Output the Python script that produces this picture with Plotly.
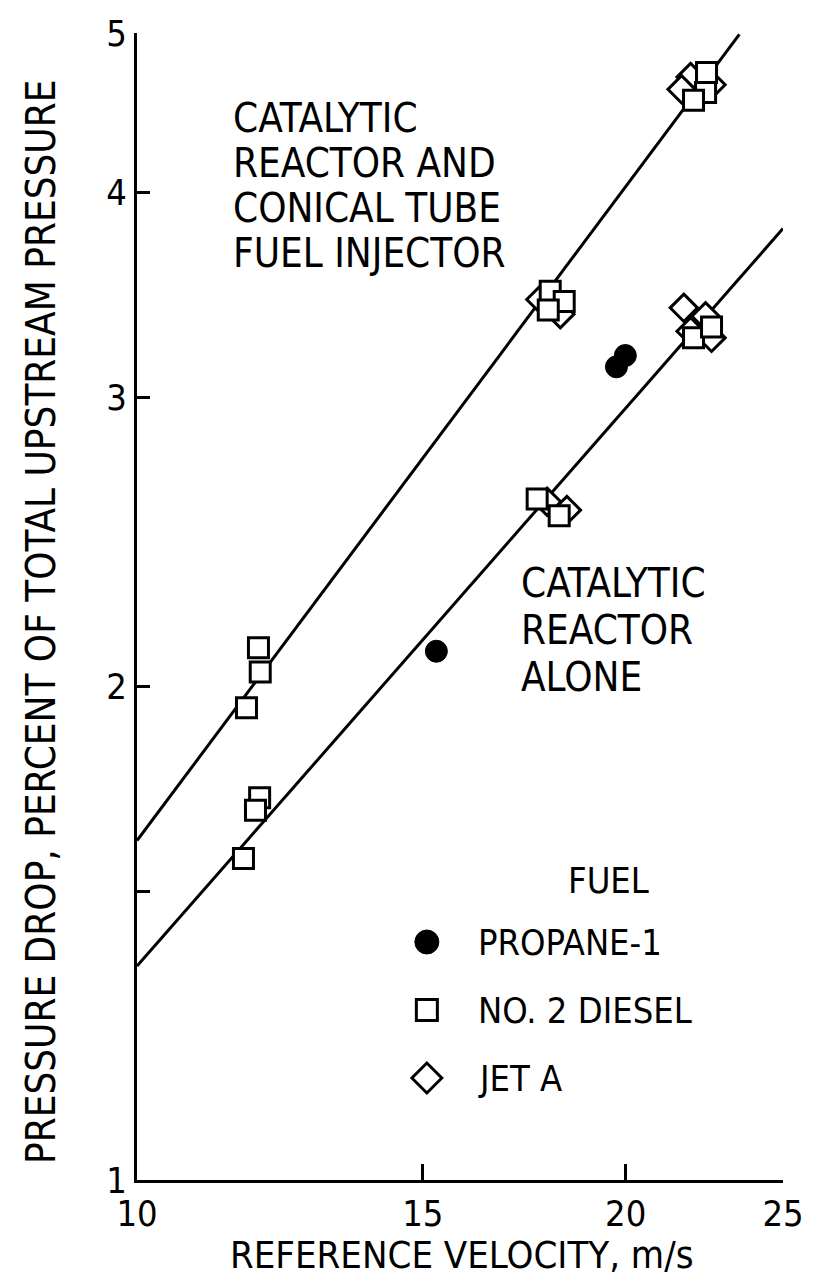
import plotly.graph_objects as go
import math

# ---------------- data ----------------
upper_line_x = [10.0, 23.5]
upper_line_y = [1.61, 4.99]
lower_line_x = [10.0, 25.0]
lower_line_y = [1.35, 3.80]

propane_x = [15.29, 19.74, 19.99]
propane_y = [2.10, 3.13, 3.18]

diesel_x = [11.88, 11.91, 11.68, 17.97, 18.33, 17.92, 22.43, 22.40, 22.02,
            11.90, 11.83, 11.63, 17.64, 18.20, 22.02, 22.59]
diesel_y = [2.11, 2.04, 1.94, 3.48, 3.43, 3.39, 4.73, 4.60, 4.55,
            1.71, 1.68, 1.57, 2.60, 2.54, 3.26, 3.31]

jet_x = [17.72, 18.23, 21.93, 22.59, 21.65, 17.89, 18.40, 21.72, 22.40, 21.93, 22.59]
jet_y = [3.44, 3.37, 4.70, 4.65, 4.62, 2.59, 2.56, 3.40, 3.36, 3.29, 3.26]

x_ticks = [10, 15, 20, 25]
y_ticks = [1, 1.5, 2, 3, 4, 5]
y_ticktext = ["1", "", "2", "3", "4", "5"]

legend_names = ["PROPANE-1", "NO. 2 DIESEL", "JET A"]

# ---------------- layout constants ----------------
W, H = 816, 1283
L, R, T, B = 137, 790, 33, 1180
FONT = "DejaVu Sans Condensed, Liberation Sans Narrow, DejaVu Sans, sans-serif"
BLACK = "#000000"

def px2paper(px, py):
    return (px - L) / (R - L), (B - py) / (B - T)

def px2data(px, py):
    xr = (math.log10(10), math.log10(25))
    yr = (0, math.log10(5))
    fx, fy = px2paper(px, py)
    return 10 ** (xr[0] + fx * (xr[1] - xr[0])), 10 ** (yr[0] + fy * (yr[1] - yr[0]))

fig = go.Figure()

line_style = dict(color=BLACK, width=3)
fig.add_trace(go.Scatter(x=upper_line_x, y=upper_line_y, mode="lines", line=line_style,
                         showlegend=False, hoverinfo="skip"))
fig.add_trace(go.Scatter(x=lower_line_x, y=lower_line_y, mode="lines", line=line_style,
                         showlegend=False, hoverinfo="skip"))

sq_marker = dict(symbol="square", size=20, color="white", line=dict(color=BLACK, width=3))
di_marker = dict(symbol="diamond", size=21, color="white", line=dict(color=BLACK, width=3))
ci_marker = dict(symbol="circle", size=22, color=BLACK, line=dict(color=BLACK, width=1))

fig.add_trace(go.Scatter(x=jet_x, y=jet_y, mode="markers", marker=di_marker,
                         name=legend_names[2], showlegend=False, cliponaxis=False))
fig.add_trace(go.Scatter(x=diesel_x, y=diesel_y, mode="markers", marker=sq_marker,
                         name=legend_names[1], showlegend=False, cliponaxis=False))
fig.add_trace(go.Scatter(x=propane_x, y=propane_y, mode="markers", marker=ci_marker,
                         name=legend_names[0], showlegend=False, cliponaxis=False))

# manual legend keys
leg_px = 430
leg_py = [942, 1010, 1078]
leg_markers = [dict(ci_marker, size=24), dict(sq_marker, size=21), dict(di_marker, size=23)]
for mk, py in zip(leg_markers, leg_py):
    lx, ly = px2data(leg_px, py)
    fig.add_trace(go.Scatter(x=[lx], y=[ly], mode="markers", marker=mk,
                             showlegend=False, hoverinfo="skip", cliponaxis=False))

annotations = []

def add_text(text, px, py, size=40, xanchor="left", angle=0):
    fx, fy = px2paper(px, py)
    annotations.append(dict(text=text, x=fx, y=fy, xref="paper", yref="paper",
                            xanchor=xanchor, yanchor="middle", showarrow=False,
                            textangle=angle, font=dict(family=FONT, size=size, color=BLACK)))

for i, t in enumerate(["CATALYTIC", "REACTOR AND", "CONICAL TUBE", "FUEL INJECTOR"]):
    add_text(t, 232, 118 + 45 * i)
for i, t in enumerate(["CATALYTIC", "REACTOR", "ALONE"]):
    add_text(t, 523, 583 + 47 * i)

add_text("FUEL", 614, 880, size=36, xanchor="center")
for name, py in zip(legend_names, leg_py):
    add_text(name, 480, py, size=36)

add_text("REFERENCE VELOCITY, m/s", 465, 1255, size=38, xanchor="center")
add_text("PRESSURE DROP, PERCENT OF TOTAL UPSTREAM PRESSURE", 40, 622, size=40,
         xanchor="center", angle=-90)

fig.update_layout(
    width=W, height=H,
    margin=dict(l=L, r=W - R, t=T, b=H - B, pad=0),
    paper_bgcolor="white", plot_bgcolor="white",
    showlegend=False,
    annotations=annotations,
    font=dict(family=FONT, color=BLACK),
)
fig.update_xaxes(type="log", range=[1, math.log10(25)], tickvals=x_ticks,
                 ticktext=[str(v) for v in x_ticks],
                 showline=True, linecolor=BLACK, linewidth=3, mirror=False,
                 ticks="inside", ticklen=16, tickwidth=3, tickcolor=BLACK,
                 showgrid=False, zeroline=False,
                 tickfont=dict(family=FONT, size=36, color=BLACK))
fig.update_yaxes(type="log", range=[0, math.log10(5)], tickvals=y_ticks, ticktext=y_ticktext,
                 showline=True, linecolor=BLACK, linewidth=3, mirror=False,
                 ticks="inside", ticklen=13, tickwidth=3, tickcolor=BLACK,
                 showgrid=False, zeroline=False,
                 tickfont=dict(family=FONT, size=36, color=BLACK))

fig.write_html("out.html", config={"displayModeBar": False},
               post_script="document.body.style.margin='0px';")
